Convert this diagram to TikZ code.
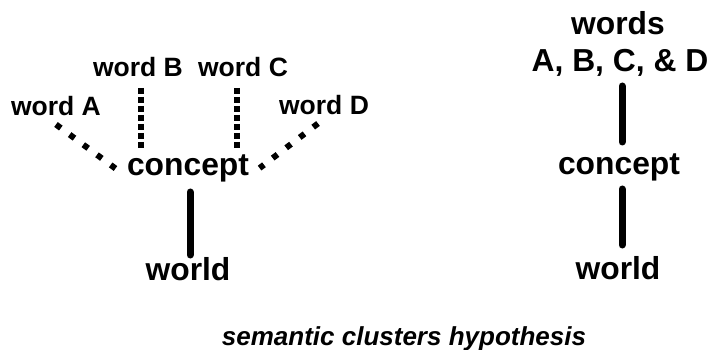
\documentclass[tikz,border=0pt]{standalone}
\usepackage{fontspec}
\setmainfont{Liberation Sans}
\begin{document}
\begin{tikzpicture}[x=1pt,y=-1pt,
  lbl/.style={inner sep=0pt,anchor=base,font=\fontsize{26.5}{28}\selectfont\bfseries},
  big/.style={inner sep=0pt,anchor=base,font=\fontsize{31.8}{37}\selectfont\bfseries},
  capt/.style={inner sep=0pt,anchor=base,font=\fontsize{26}{28}\selectfont\bfseries\itshape},
  solidlink/.style={line width=7pt,line cap=round},
  vdots/.style={line width=6pt,dash pattern=on 6pt off 3pt},
  ddots/.style={line width=6pt,dash pattern=on 6pt off 11pt}]
\useasboundingbox (0,0) rectangle (710,350);

% left: several words attached to one concept
\node[lbl] (wA) at (56,116) {word A};
\node[lbl] (wB) at (138,77) {word B};
\node[lbl] (wC) at (243,77) {word C};
\node[lbl] (wD) at (324,115) {word D};
\node[big] (cL) at (188,176) {concept};
\node[big] (wL) at (188,280) {world};

\coordinate (aTop) at (56,124.5);
\coordinate (aEnd) at (115.5,168.5);
\coordinate (bTop) at (141,88);
\coordinate (bEnd) at (141,148);
\coordinate (cTop) at (237,88);
\coordinate (cEnd) at (237,148);
\coordinate (dTop) at (318,123.5);
\coordinate (dEnd) at (259.6,168.1);
\draw[ddots] (aTop) -- (aEnd);
\draw[vdots] (bTop) -- (bEnd);
\draw[vdots] (cTop) -- (cEnd);
\draw[ddots] (dTop) -- (dEnd);
\draw[solidlink] ([yshift=-16pt]cL.base -| 190,0) -- ([yshift=25pt]wL.base -| 190,0);

% right: one cluster of words
\node[big] (wR) at (618,35) {words};
\node[big] (abcd) at (620,72) {A, B, C, \& D};
\node[big] (cR) at (619,175) {concept};
\node[big] (wR2) at (618,279) {world};
\draw[solidlink] (622,86) -- (622,142);
\draw[solidlink] (622,189) -- (622,245);

\node[capt] (cap) at (404,345) {semantic clusters hypothesis};
\end{tikzpicture}
\end{document}
